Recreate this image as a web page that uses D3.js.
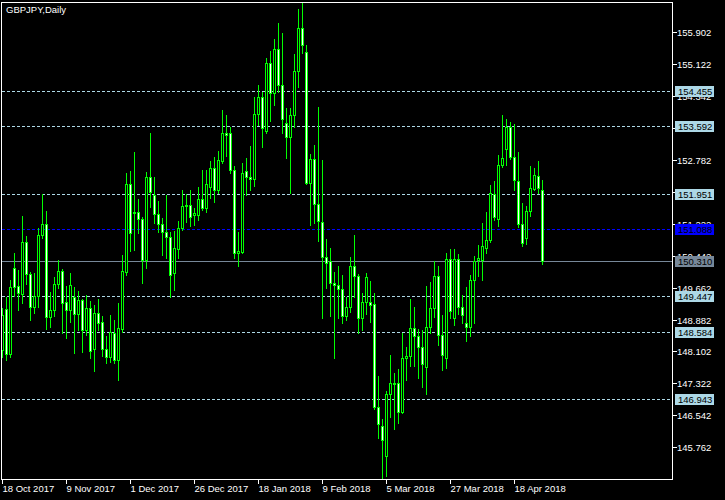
<!DOCTYPE html>
<html><head><meta charset="utf-8">
<script src="https://cdn.jsdelivr.net/npm/d3@7"></script>
<style>html,body{margin:0;padding:0;background:#000;overflow:hidden}svg{display:block}</style>
</head><body>
<svg id="c" width="725" height="500"></svg>
<script>
const chartTitle = "GBPJPY,Daily";
const firstDay = "2017-10-18";
const holidays = ["2017-12-25", "2018-01-01"];

const opens = [
148.138,149.138,148.041,150.138,149.699,149.504,150.773,149.992,149.187,149.455,
150.943,151.212,148.943,149.114,149.748,150.065,149.309,149.114,149.431,149.016,
149.358,148.626,149.163,148.163,149.041,148.821,148.163,147.968,148.553,147.895,
148.651,150.041,152.187,151.504,151.504,151.334,150.334,152.358,151.919,151.455,
151.212,151.016,150.895,150.016,150.602,151.114,151.651,151.675,151.431,151.431,
151.821,151.602,152.114,152.577,152.041,152.748,153.431,153.431,152.529,150.504,
150.529,152.504,152.358,152.309,153.895,154.309,153.480,155.138,154.407,155.480,
154.602,153.675,153.334,153.870,154.943,155.992,155.407,152.212,152.797,151.699,
151.260,150.407,150.309,149.773,149.724,149.626,148.968,149.187,150.187,149.943,
148.919,149.309,149.309,149.260,146.748,146.285,145.553,147.065,147.334,147.334,
146.626,147.943,147.992,148.675,148.480,148.212,147.724,148.699,149.163,149.943,
148.504,147.943,150.358,148.919,150.358,149.187,148.797,148.699,149.846,150.334,
150.334,150.626,150.821,151.943,151.334,152.651,153.041,153.577,152.846,152.260,
151.212,150.870,151.529,152.065,152.382,152.041];
const highs = [
149.163,149.431,149.846,150.504,150.090,151.407,150.919,150.041,150.016,151.114,
151.943,151.529,149.553,149.919,150.334,150.114,149.699,150.016,149.675,149.577,
149.382,149.480,149.334,149.236,149.382,148.968,148.480,148.992,148.870,149.285,
150.455,152.455,152.504,152.968,151.821,151.382,152.480,153.431,152.358,151.773,
151.358,151.919,151.016,151.041,151.285,152.041,151.943,152.041,151.602,152.114,
152.529,152.529,152.748,152.846,152.992,153.992,153.870,153.577,152.626,151.016,
152.699,152.821,153.114,154.309,154.602,154.431,155.260,155.431,155.724,156.114,
155.870,154.041,154.041,155.358,156.455,156.602,155.577,152.919,153.138,154.065,
152.773,150.846,150.626,150.041,150.187,149.968,149.431,150.407,150.943,149.992,
149.529,150.016,149.821,149.529,147.504,146.455,147.138,148.016,147.577,147.675,
148.553,148.212,149.382,149.187,148.651,148.626,149.699,149.797,150.309,150.187,
148.992,150.504,150.602,150.602,150.480,149.480,149.675,149.968,150.431,150.699,
151.236,151.504,152.163,152.260,152.895,153.870,153.773,153.699,153.651,152.968,
151.724,151.651,152.626,152.577,152.748,152.285];
const lows = [
147.968,147.895,147.968,149.455,149.114,149.285,149.748,148.870,149.041,149.187,
150.870,148.651,148.699,148.968,149.651,148.553,148.431,148.821,148.065,148.626,
148.090,148.504,147.943,147.626,148.626,147.992,147.821,147.846,147.821,147.407,
148.577,149.968,150.553,150.577,150.992,149.773,150.138,151.626,151.236,151.016,
150.455,150.382,149.431,149.602,150.382,151.065,151.260,151.163,151.187,151.309,
151.553,151.504,151.846,151.748,151.968,152.699,152.870,152.455,150.382,150.187,
150.504,151.919,152.041,152.138,153.626,153.090,153.431,153.724,154.114,154.431,
153.431,152.821,151.968,153.577,154.553,155.382,152.187,151.187,151.236,150.797,
148.919,149.651,148.968,147.943,148.919,148.797,148.870,149.065,149.431,148.553,
148.626,149.016,148.821,146.699,145.992,144.992,145.065,146.504,146.212,146.358,
146.602,147.407,147.748,147.748,147.455,147.236,147.065,148.553,148.943,148.260,
147.651,147.699,148.919,148.748,149.016,148.797,148.358,148.480,148.797,149.943,
149.846,150.504,150.773,151.309,151.163,152.602,152.651,152.797,152.041,151.138,
150.675,150.724,151.407,152.041,151.968,150.236];
const closes = [
148.992,148.041,149.675,149.675,149.529,150.773,149.992,149.187,149.455,150.943,
151.212,148.943,149.114,149.748,150.065,149.285,149.114,149.724,149.016,149.358,
148.626,149.163,148.114,149.041,148.797,148.163,147.968,148.577,147.895,148.675,
150.065,152.187,150.992,151.480,151.334,150.334,152.358,151.992,151.455,151.212,
151.016,150.895,149.968,150.626,151.114,151.651,151.675,151.382,151.480,151.821,
151.602,152.187,152.577,152.041,152.773,153.431,153.382,152.529,150.504,150.553,
152.455,152.358,152.309,153.895,154.309,153.553,155.138,154.407,155.480,154.602,
153.773,153.334,153.870,154.943,155.992,155.577,152.212,152.797,151.699,151.285,
150.407,150.260,149.773,149.724,149.626,148.968,149.187,150.187,149.943,148.919,
149.309,149.919,149.236,146.748,146.334,145.943,147.065,147.334,147.309,146.626,
147.943,147.992,148.675,148.480,148.212,147.797,148.699,149.163,149.943,148.504,
148.016,150.358,149.090,150.358,149.187,148.992,148.699,149.846,150.309,150.382,
150.675,150.821,151.968,151.382,152.651,152.821,153.577,152.846,152.285,151.212,
150.748,151.529,152.090,152.407,152.090,150.310];

const dateTickLabels = ["18 Oct 2017","9 Nov 2017","1 Dec 2017","26 Dec 2017","18 Jan 2018","9 Feb 2018","5 Mar 2018","27 Mar 2018","18 Apr 2018"];
const priceTicks = [145.762,146.542,147.322,148.102,148.882,149.662,150.442,151.222,152.002,152.782,153.562,154.342,155.122,155.902];
const levelLines = [154.455,153.592,151.951,149.447,148.584,146.943];
const bidLine = 151.088;
const lastPrice = 150.310;

// trading-day categories
const parse = d3.timeParse("%Y-%m-%d"), fmtKey = d3.timeFormat("%Y-%m-%d"), fmtLab = d3.timeFormat("%-d %b %Y");
const N = opens.length;
const dates = [];
let day = parse(firstDay);
while (dates.length < N) {
  const wd = day.getDay();
  if (wd !== 0 && wd !== 6 && !holidays.includes(fmtKey(day))) dates.push(fmtLab(day));
  day = d3.timeDay.offset(day, 1);
}
const bars = dates.map((d, i) => ({d, o: opens[i], h: highs[i], l: lows[i], c: closes[i]}));

const svg = d3.select("#c");
const FONT = "'Liberation Sans', Arial, sans-serif";
const plotL = 1, plotT = 2, plotR = 672, plotB = 479;

svg.append("rect").attr("width", 725).attr("height", 500).attr("fill", "#000");

const x = d3.scalePoint().domain(dates).range([2, 2 + 4 * (N - 1)]);
const y = d3.scaleLinear()
  .domain([d3.min(lows), d3.max(highs)])
  .range([plotB, plotT + 1]);
const py = v => Math.round(y(v));

// horizontal level lines
const lines = svg.append("g").attr("shape-rendering", "crispEdges");
levelLines.forEach(v => {
  lines.append("line").attr("x1", plotL + 1).attr("x2", plotR).attr("y1", py(v) + 0.5).attr("y2", py(v) + 0.5)
    .attr("stroke", "#add8e6").attr("stroke-dasharray", "3,2");
});
lines.append("line").attr("x1", plotL + 1).attr("x2", plotR).attr("y1", py(bidLine) + 0.5).attr("y2", py(bidLine) + 0.5)
  .attr("stroke", "#0000ff").attr("stroke-dasharray", "3,2");
lines.append("line").attr("x1", plotL + 1).attr("x2", plotR).attr("y1", py(lastPrice) + 0.5).attr("y2", py(lastPrice) + 0.5)
  .attr("stroke", "#778899");

// candles
const cg = svg.append("g").attr("shape-rendering", "crispEdges");
const candle = cg.selectAll("g").data(bars).join("g");
candle.append("rect")
  .attr("x", b => x(b.d)).attr("width", 1)
  .attr("y", b => py(b.h)).attr("height", b => py(b.l) - py(b.h) + 1)
  .attr("fill", "#00ff00");
candle.append("rect")
  .attr("x", b => x(b.d) - 1).attr("width", 3)
  .attr("y", b => py(Math.max(b.o, b.c))).attr("height", b => py(Math.min(b.o, b.c)) - py(Math.max(b.o, b.c)) + 1)
  .attr("fill", "#00ff00");
candle.filter(b => py(Math.min(b.o, b.c)) - py(Math.max(b.o, b.c)) >= 2).append("rect")
  .attr("x", b => x(b.d)).attr("width", 1)
  .attr("y", b => py(Math.max(b.o, b.c)) + 1).attr("height", b => py(Math.min(b.o, b.c)) - py(Math.max(b.o, b.c)) - 1)
  .attr("fill", b => b.c < b.o ? "#ffffff" : "#000000");

// frame
const fr = svg.append("g").attr("shape-rendering", "crispEdges");
fr.append("line").attr("x1", plotL + 0.5).attr("x2", plotL + 0.5).attr("y1", plotT).attr("y2", plotB + 1).attr("stroke", "#fff");
fr.append("line").attr("x1", plotL).attr("x2", plotR + 1).attr("y1", plotT + 0.5).attr("y2", plotT + 0.5).attr("stroke", "#fff");
fr.append("line").attr("x1", plotL).attr("x2", plotR + 1).attr("y1", plotB + 0.5).attr("y2", plotB + 0.5).attr("stroke", "#fff");
fr.append("line").attr("x1", plotR + 0.5).attr("x2", plotR + 0.5).attr("y1", plotT).attr("y2", plotB + 1).attr("stroke", "#fff");

// title
svg.append("text").attr("x", 6).attr("y", 13).attr("fill", "#fff")
  .attr("font-family", FONT).attr("font-size", "9.5px").text(chartTitle);

// right price axis
const ra = svg.append("g");
ra.selectAll("line").data(priceTicks).join("line")
  .attr("shape-rendering", "crispEdges")
  .attr("x1", plotR + 1).attr("x2", plotR + 5).attr("y1", v => py(v) + 0.5).attr("y2", v => py(v) + 0.5).attr("stroke", "#fff");
ra.selectAll("text").data(priceTicks).join("text")
  .attr("x", plotR + 5).attr("y", v => py(v) + 3.5)
  .attr("fill", "#fff").attr("font-family", FONT).attr("font-size", "9.5px")
  .text(v => v.toFixed(3));

function priceBox(v, fill) {
  const g = svg.append("g");
  g.append("rect").attr("shape-rendering", "crispEdges")
    .attr("x", plotR + 3).attr("y", py(v) - 5).attr("width", 39).attr("height", 11).attr("fill", fill);
  g.append("text").attr("x", plotR + 6).attr("y", py(v) + 3.5)
    .attr("fill", "#000").attr("font-family", FONT).attr("font-size", "9.5px").text(v.toFixed(3));
}
levelLines.forEach(v => priceBox(v, "#add8e6"));
priceBox(bidLine, "#0000ff");
priceBox(lastPrice, "#778899");

// bottom date axis
const tickDates = dateTickLabels.filter(t => dates.includes(t));
const ba = svg.append("g");
ba.selectAll("line").data(tickDates).join("line")
  .attr("shape-rendering", "crispEdges")
  .attr("x1", d => x(d) + 0.5).attr("x2", d => x(d) + 0.5).attr("y1", plotB + 1).attr("y2", plotB + 5).attr("stroke", "#fff");
ba.selectAll("text").data(tickDates).join("text")
  .attr("x", d => x(d) + 0.5).attr("y", plotB + 13)
  .attr("fill", "#fff").attr("font-family", FONT).attr("font-size", "9.5px").text(d => d);
</script>
</body></html>
